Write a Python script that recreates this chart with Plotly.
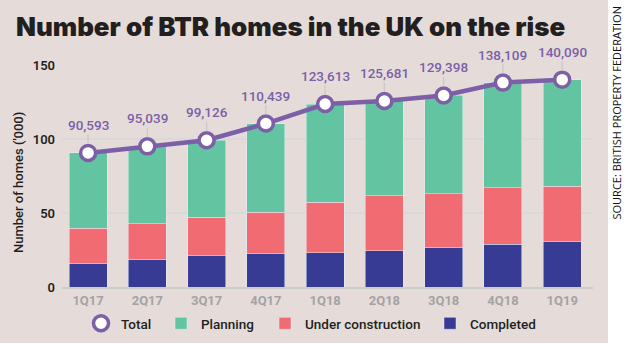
import plotly.graph_objects as go

# Quarterly build-to-rent pipeline, thousands of homes
quarters = ["1Q17", "2Q17", "3Q17", "4Q17", "1Q18", "2Q18", "3Q18", "4Q18", "1Q19"]
totals = [90593, 95039, 99126, 110439, 123613, 125681, 129398, 138109, 140090]
completed = [16.0, 18.3, 21.0, 22.4, 23.2, 24.6, 26.9, 28.9, 30.5]
under_construction = [23.7, 24.4, 26.2, 28.2, 33.9, 37.1, 36.1, 38.0, 37.7]

totals_k = [t / 1000 for t in totals]
planning = [t - c - u for t, c, u in zip(totals_k, completed, under_construction)]
total_labels = [f"{t:,}" for t in totals]

# Colours
NAVY = "#373b94"
RED = "#f16b73"
GREEN = "#63c4a1"
PURPLE = "#7c5fa7"
PANEL = "#e5dcda"
PLOT_BG = "#f8f9f9"
INK = "#231f20"

W, H = 640, 344
L, R, T, B = 62, 47, 57, 57
PW, PH = W - L - R, H - T - B
Y_RANGE = [0, 155.4]


def px_x(px):
    return (px - L) / PW


def px_y(py):
    return (H - B - py) / PH


fig = go.Figure()

fig.add_bar(x=quarters, y=completed, name="Completed", marker_color=NAVY,
            legend="legend4")
fig.add_bar(x=quarters, y=under_construction, name="Under construction",
            marker_color=RED, legend="legend3")
fig.add_bar(x=quarters, y=planning, name="Planning", marker_color=GREEN,
            legend="legend2")

# Total line and markers sit on the overlaid axis (same scale) above the bars
fig.add_scatter(x=quarters, y=totals_k, mode="lines", showlegend=False,
                yaxis="y2", line=dict(color=PURPLE, width=4.5),
                hoverinfo="skip")
fig.add_scatter(x=quarters, y=totals_k, mode="markers", name="Total",
                yaxis="y2", legend="legend",
                marker=dict(size=15, color="white",
                            line=dict(color=PURPLE, width=3.5)))

# Value labels with thin leader lines down to each marker
for q, v, lab in zip(quarters, totals_k, total_labels):
    fig.add_annotation(x=q, y=v, yref="y2", text=lab, showarrow=True,
                       arrowhead=0, arrowwidth=1.3, arrowcolor="#c9c9c9",
                       ax=0, ay=-28, standoff=9,
                       font=dict(family="Roboto", size=13.5, color=PURPLE,
                                 weight=500))

# Beige panel behind the chart
fig.add_shape(type="rect", xref="paper", yref="paper",
              x0=px_x(0), x1=px_x(608), y0=px_y(343), y1=px_y(0),
              fillcolor=PANEL, line_width=0, layer="below")

# Axis title
fig.add_annotation(xref="paper", yref="paper", x=px_x(18), y=px_y(183),
                   text="Number of homes ('000)", textangle=-90,
                   showarrow=False, xanchor="center", yanchor="middle",
                   font=dict(family="Roboto", size=13, color=INK, weight=500))

# Source credit
fig.add_annotation(xref="paper", yref="paper", x=px_x(616), y=px_y(222),
                   text="SOURCE: BRITISH PROPERTY FEDERATION", textangle=-90,
                   showarrow=False, xanchor="center", yanchor="bottom",
                   font=dict(family="Open Sans", size=11, color="#111111"))

legend_font = dict(family="Roboto", size=13.5, color=INK, weight=500)


def legend_box(left_px):
    return dict(orientation="h", x=px_x(left_px), xanchor="left",
                y=px_y(308), yanchor="top", bgcolor="rgba(0,0,0,0)",
                font=legend_font, itemsizing="trace")


tick_font = dict(family="Roboto", size=13, color=INK, weight=600)

fig.update_layout(
    width=W, height=H,
    margin=dict(l=L, r=R, t=T, b=B, pad=0, autoexpand=False),
    paper_bgcolor="white",
    plot_bgcolor=PLOT_BG,
    barmode="stack",
    bargap=0.36,
    title=dict(text="Number of BTR homes in the UK on the rise",
               xref="container", yref="container",
               x=16 / W, xanchor="left", y=1 - 27 / H, yanchor="middle",
               font=dict(family="Inter", size=25.9, color=INK, weight=900)),
    legend=legend_box(81),
    legend2=legend_box(161),
    legend3=legend_box(265),
    legend4=legend_box(430),
    xaxis=dict(range=[-0.44, 8.52], showgrid=False, showline=True,
               linecolor="#cdcdcd", linewidth=2, ticks="",
               tickfont=dict(family="Roboto", size=13, color="#a3a3a3",
                             weight=700)),
    # gridlines at 50 and 100 only; the top label sits on the overlaid axis
    yaxis=dict(range=Y_RANGE, tickvals=[0, 50, 100],
               showgrid=True, gridcolor="#d9d9d9", gridwidth=1.5,
               zeroline=False, ticks="", ticklabelstandoff=6,
               tickfont=tick_font),
    yaxis2=dict(range=Y_RANGE, tickvals=[150], overlaying="y", side="left",
                showgrid=False, zeroline=False, ticks="",
                ticklabelstandoff=6, tickfont=tick_font),
    showlegend=True,
)

fig.write_html("out.html")
